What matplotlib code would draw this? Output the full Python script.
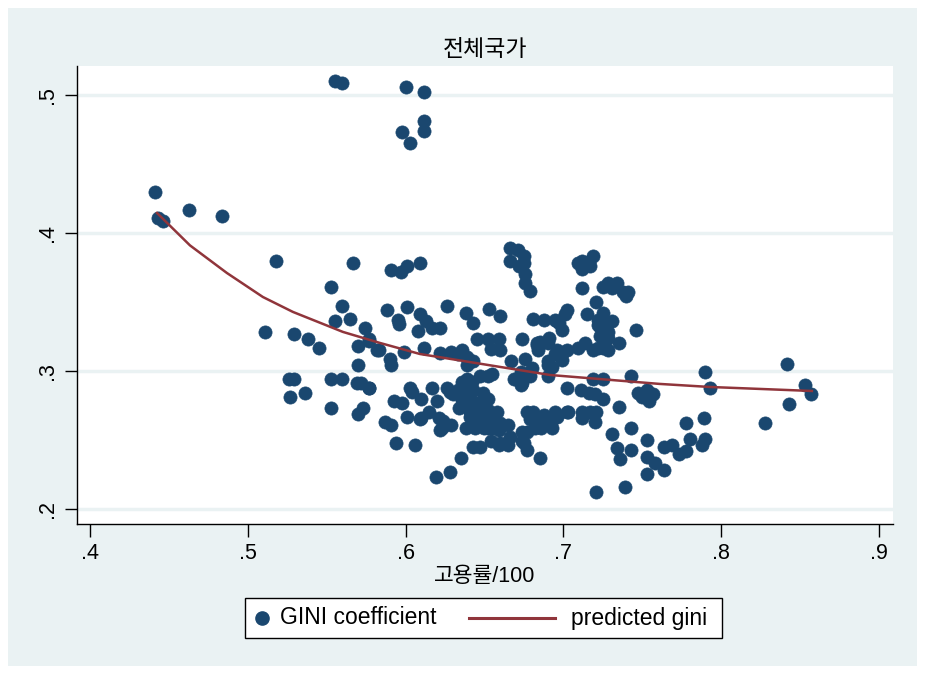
import matplotlib
matplotlib.use("Agg")
import matplotlib.pyplot as plt
from matplotlib.patches import Rectangle
from matplotlib.lines import Line2D

plt.rcParams['font.family'] = ['Liberation Sans', 'Noto Sans CJK KR', 'DejaVu Sans']

# GINI coefficient vs employment rate (고용률/100)
gini_x = [
    .555, .560, .600, .612, .612, .612, .598, .603,
    .441, .443, .446, .463, .484, .518, .511, .529, .538, .545, .526, .529,
    .527, .536, .553, .560, .569, .572, .577, .553, .570, .573, .567, .553,
    .560, .555, .565, .574, .577, .570, .582, .570,
    .591, .597, .601, .609,
    .666, .671, .666, .675, .675, .672, .676, .676, .679,
    .588, .601, .595, .596, .609, .613, .608, .617, .622, .626, .638, .643,
    .653, .660, .645, .652, .659, .654, .660, .681, .688, .674, .683, .691,
    .697, .699, .702, .577, .583, .590, .591, .599, .612, .622, .629, .633,
    .636, .639, .643, .639, .647, .652, .655, .667, .676, .680, .683, .684,
    .690, .693, .699, .673, .674, .679, .690, .701, .696, .721, .715, .725,
    .722, .723, .731, .728, .740, .746, .690, .696, .700, .702, .709, .714,
    .719, .725, .726, .728, .735, .690,
    .709, .712, .716, .719, .717, .712, .712, .725, .728, .731, .734, .738,
    .741, .695, .726, .722, .723, .728, .725, .722, .685, .695,
    .577, .603, .604, .617, .626, .628, .636, .639, .642, .636, .633, .640,
    .643, .639, .593, .598, .610, .620, .630, .636, .641, .649, .652, .648,
    .641, .645, .634, .641, .646, .652, .658, .641, .645, .650, .615, .621,
    .624, .629, .623, .610, .601, .609, .587, .591, .622, .638, .643, .647,
    .650, .653, .655, .659, .665, .641, .645, .649, .655, .660, .644, .652,
    .666, .674, .674, .677, .685, .677, .680, .684, .687, .692, .695, .696,
    .702, .693, .679, .682, .686, .677, .675, .665, .660, .654, .647, .643,
    .659, .594, .606, .635, .628, .619, .669, .673, .681, .688, .703, .712,
    .717, .721, .720, .712, .688, .702,
    .711, .716, .720, .725, .719, .725, .743, .747, .750, .754, .757, .753,
    .735, .743, .731, .734, .736, .743, .753, .753, .758, .764, .753, .764,
    .769, .773, .778, .780, .790, .788, .778, .789, .790, .793, .828, .842,
    .853, .857, .843, .721, .739,
]
gini_y = [
    .510, .509, .506, .502, .481, .474, .473, .465,
    .430, .411, .409, .417, .412, .380, .328, .327, .323, .317, .294, .294,
    .281, .284, .294, .294, .291, .291, .288, .273, .269, .273, .378, .361,
    .347, .336, .338, .331, .322, .318, .315, .304,
    .373, .372, .376, .378,
    .389, .388, .380, .383, .378, .376, .370, .364, .358,
    .344, .346, .337, .334, .341, .336, .329, .331, .331, .347, .342, .335,
    .345, .340, .323, .323, .323, .316, .315, .338, .337, .323, .320, .324,
    .335, .330, .344, .323, .315, .309, .304, .314, .317, .313, .314, .312,
    .315, .310, .307, .304, .296, .296, .298, .307, .309, .302, .319, .315,
    .307, .303, .308, .299, .291, .296, .296, .341, .336, .350, .341, .342,
    .337, .332, .336, .328, .354, .330, .320, .315, .314, .315, .317, .320,
    .315, .325, .320, .315, .320, .304,
    .378, .380, .379, .383, .376, .374, .360, .361, .364, .360, .364, .357,
    .357, .337, .334, .333, .325, .324, .317, .317, .321, .312,
    .288, .288, .285, .288, .288, .285, .292, .294, .292, .288, .286, .288,
    .286, .284, .278, .277, .280, .278, .283, .279, .283, .284, .280, .277,
    .278, .277, .273, .272, .274, .272, .270, .270, .268, .273, .270, .266,
    .264, .261, .259, .266, .267, .265, .263, .261, .257, .259, .263, .261,
    .259, .263, .259, .257, .261, .267, .265, .265, .265, .262, .259, .259,
    .252, .256, .249, .243, .237, .270, .266, .267, .263, .263, .270, .267,
    .270, .259, .265, .259, .259, .256, .248, .246, .248, .249, .245, .245,
    .246, .248, .246, .237, .227, .223, .294, .290, .270, .268, .270, .270,
    .270, .270, .263, .266, .263, .288,
    .286, .284, .283, .280, .294, .294, .296, .284, .281, .278, .283, .286,
    .274, .259, .254, .244, .236, .243, .250, .238, .233, .228, .225, .245,
    .246, .240, .242, .251, .251, .246, .262, .266, .299, .288, .262, .305,
    .290, .283, .276, .212, .216,
]

# predicted gini (fitted curve)
fit_x = [.4425, .4634, .4868, .5096, .5286, .5603, .5838, .6091, .6915, .7612, .7929, .8575]
fit_y = [.4145, .3910, .3710, .3536, .3428, .3283, .3203, .3123, .2971, .2906, .2884, .2855]

xticks = [.4, .5, .6, .7, .8, .9]
yticks = [.2, .3, .4, .5]

navy = '#1a476f'
maroon = '#90353b'
bg = '#eaf2f3'

fig = plt.figure(figsize=(9.25, 6.74), dpi=100)
fig.patch.set_facecolor('white')
fig.patches.append(Rectangle((8 / 925, 1 - 666 / 674), 909 / 925, 658 / 674,
                             transform=fig.transFigure, facecolor=bg,
                             edgecolor='none', zorder=-5))

ax = fig.add_axes([77 / 925, 1 - 524 / 674, 816 / 925, 458 / 674])
ax.set_facecolor('white')

ax.scatter(gini_x, gini_y, s=90, color=navy, edgecolors=navy,
           linewidths=0.5, zorder=3)
ax.plot(fit_x, fit_y, color=maroon, lw=1.8, zorder=4)

ax.set_xlim(.3918, .9089)
ax.set_ylim(.1891, .521)
ax.set_xticks(xticks)
ax.set_xticklabels(['.4', '.5', '.6', '.7', '.8', '.9'])
ax.set_yticks(yticks)
ax.set_yticklabels(['.2', '.3', '.4', '.5'], rotation=90, va='center')
for y in yticks:
    ax.axhline(y, color=bg, lw=2.5, zorder=1)

for s in ['top', 'right']:
    ax.spines[s].set_visible(False)
for s in ['left', 'bottom']:
    ax.spines[s].set_color('black')
    ax.spines[s].set_linewidth(1.0)
ax.tick_params(axis='both', direction='out', length=9, width=1, labelsize=15.5, pad=5)

ax.set_title('전체국가', fontsize=16.5, pad=7)
ax.set_xlabel('고용률/100', fontsize=15.5, labelpad=1)

# legend box drawn by hand (Stata layout: short marker key, long line key)
fig.patches.append(Rectangle((245 / 925, 1 - 638 / 674), 477 / 925, 40 / 674,
                             transform=fig.transFigure, facecolor='white',
                             edgecolor='black', lw=1.0, zorder=5))
ly = 1 - 618 / 674
fig.lines.append(Line2D([262 / 925], [ly], transform=fig.transFigure, marker='o',
                        ls='none', color=navy, markersize=9.5, zorder=6))
fig.lines.append(Line2D([469 / 925, 555 / 925], [ly, ly], transform=fig.transFigure,
                        color=maroon, lw=2.2, zorder=6))
fig.text(280 / 925, ly, 'GINI coefficient', fontsize=16.5, va='center', ha='left', zorder=6)
fig.text(571 / 925, ly, 'predicted gini', fontsize=16.5, va='center', ha='left', zorder=6)

fig.savefig('out.png', dpi=100)
